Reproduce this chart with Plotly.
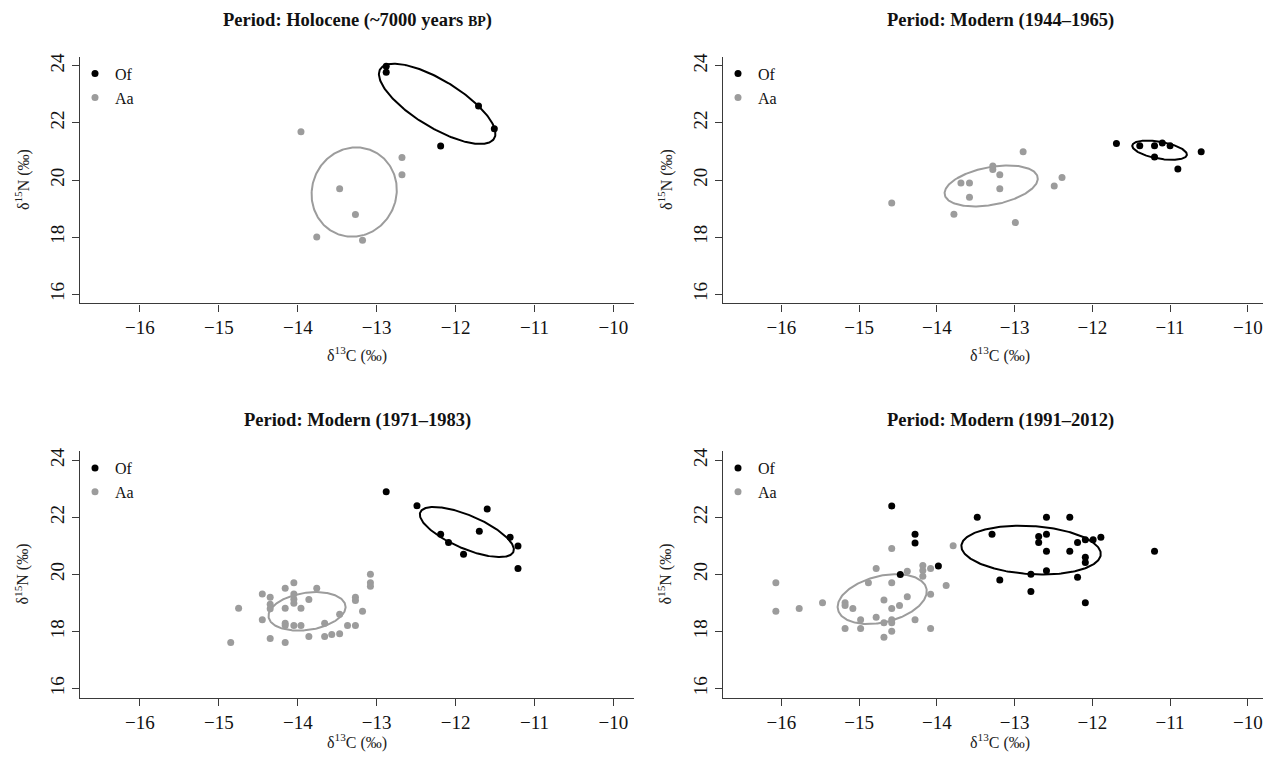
import numpy as np
import plotly.graph_objects as go

# ---------------- data ----------------
panel_titles = [
    "Period: Holocene (~7000 years <span style='font-size:14px'>BP</span>)",
    "Period: Modern (1944–1965)",
    "Period: Modern (1971–1983)",
    "Period: Modern (1991–2012)",
]

x_tick_vals = [-16, -15, -14, -13, -12, -11, -10]
x_tick_text = ["−16", "−15", "−14", "−13", "−12", "−11", "−10"]
y_tick_vals = [16, 18, 20, 22, 24]
y_tick_text = ["16", "18", "20", "22", "24"]

# Holocene
hol_of_x = [-12.88, -12.88, -11.71, -11.51, -12.19]
hol_of_y = [23.99, 23.78, 22.59, 21.80, 21.19]
hol_aa_x = [-13.96, -12.68, -12.68, -13.47, -13.27, -13.76, -13.18]
hol_aa_y = [21.69, 20.79, 20.19, 19.70, 18.79, 18.01, 17.89]

# Modern 1944-1965
m44_of_x = [-11.69, -11.39, -11.20, -11.10, -11.00, -11.20, -10.60, -10.90]
m44_of_y = [21.28, 21.20, 21.20, 21.30, 21.20, 20.81, 20.99, 20.39]
m44_aa_x = [-12.89, -13.28, -13.28, -13.19, -13.69, -13.58, -13.19, -13.58,
            -12.39, -12.49, -14.58, -13.78, -12.99]
m44_aa_y = [20.99, 20.49, 20.37, 20.19, 19.90, 19.90, 19.70, 19.40,
            20.09, 19.79, 19.20, 18.80, 18.51]

# Modern 1971-1983
m71_of_x = [-12.88, -12.49, -11.60, -12.19, -12.09, -11.70, -11.31, -11.21, -11.90, -11.21]
m71_of_y = [22.90, 22.41, 22.29, 21.41, 21.12, 21.51, 21.30, 21.00, 20.71, 20.21]
m71_aa_x = [-13.08, -13.08, -13.08, -14.05, -14.16, -13.76, -14.45, -14.35, -14.05,
            -14.05, -14.05, -14.35, -14.35, -13.86, -13.27, -13.27, -14.75, -14.16,
            -13.96, -13.18, -13.47, -14.45, -14.16, -14.16, -14.05, -13.96, -13.66,
            -13.37, -13.27, -14.35, -13.86, -13.66, -13.57, -13.47, -14.16, -14.85]
m71_aa_y = [20.01, 19.71, 19.59, 19.71, 19.52, 19.52, 19.32, 19.20, 19.32,
            19.13, 18.99, 18.96, 18.80, 19.12, 19.20, 19.09, 18.82, 18.82,
            18.82, 18.71, 18.61, 18.41, 18.29, 18.21, 18.21, 18.21, 18.29,
            18.21, 18.21, 17.76, 17.83, 17.83, 17.90, 17.92, 17.62, 17.62]

# Modern 1991-2012
m91_of_x = [-14.58, -14.28, -14.28, -13.98, -14.47,
            -13.48, -12.59, -12.29, -13.29, -12.69, -12.59, -12.69, -12.09, -11.99,
            -11.89, -12.19, -12.59, -12.29, -11.20, -12.09, -12.09, -12.59, -12.79,
            -13.19, -12.19, -12.79, -12.09]
m91_of_y = [22.40, 21.41, 21.10, 20.30, 20.00,
            22.00, 22.00, 22.00, 21.41, 21.33, 21.41, 21.12, 21.22, 21.22,
            21.30, 21.12, 20.81, 20.81, 20.81, 20.60, 20.42, 20.13, 20.01,
            19.81, 19.90, 19.40, 19.01]
m91_aa_x = [-14.58, -13.79, -14.78, -14.38, -14.18, -14.18, -14.18, -14.08, -13.88,
            -14.88, -14.58, -14.08, -14.38, -14.68, -15.18, -15.18, -14.48, -15.08,
            -14.58, -15.47, -15.77, -16.07, -16.07, -14.78, -14.98, -14.68, -14.58,
            -14.58, -14.28, -15.18, -14.98, -14.58, -14.68, -14.08]
m91_aa_y = [20.91, 21.01, 20.21, 20.11, 20.31, 20.14, 19.94, 20.21, 19.61,
            19.71, 19.71, 19.31, 19.22, 19.11, 19.01, 18.91, 18.91, 18.81,
            18.81, 19.01, 18.81, 19.71, 18.71, 18.50, 18.41, 18.31, 18.41,
            18.31, 18.41, 18.11, 18.11, 18.01, 17.80, 18.11]

panels = [
    (hol_of_x, hol_of_y, hol_aa_x, hol_aa_y),
    (m44_of_x, m44_of_y, m44_aa_x, m44_aa_y),
    (m71_of_x, m71_of_y, m71_aa_x, m71_aa_y),
    (m91_of_x, m91_of_y, m91_aa_x, m91_aa_y),
]

# ---------------- layout geometry ----------------
W, H = 1263, 757
OF_COL = "#000000"
AA_COL = "#9c9c9c"
AXIS_COL = "#3a3a3a"
FONT = "Liberation Serif, Times New Roman, serif"

# pixel boxes of plot areas: (left, right, top, bottom)
boxes = [(80, 634, 53, 301), (723, 1263, 53, 301),
         (80, 634, 449.5, 697.5), (723, 1263, 449.5, 697.5)]
x_ranges = [[-16.76, -9.74], [-16.75, -9.805], [-16.76, -9.74], [-16.75, -9.805]]
y_range = [15.68, 24.32]
title_y = [17, 17, 419, 419]
title_cx = [357, 1000, 357, 1000]
xtitle_y = [352, 352, 741, 741]


def px(x):
    return x / W


def py(y):
    return 1 - y / H


def sea_c(x, y, n=240):
    x = np.asarray(x, float)
    y = np.asarray(y, float)
    m = len(x)
    S = np.cov(x, y) * (m - 1) / (m - 2)
    vals, vecs = np.linalg.eigh(S)
    t = np.linspace(0, 2 * np.pi, n)
    circ = np.vstack([np.cos(t), np.sin(t)])
    pts = vecs @ (np.sqrt(vals)[:, None] * circ)
    return x.mean() + pts[0], y.mean() + pts[1]


fig = go.Figure()
annotations = []

for i, (ofx, ofy, aax, aay) in enumerate(panels):
    k = "" if i == 0 else str(i + 1)
    xa, ya = "x" + k, "y" + k
    leg = "legend" + k
    l, r, t, b = boxes[i]

    ex, ey = sea_c(aax, aay)
    fig.add_trace(go.Scatter(x=ex, y=ey, mode="lines", xaxis=xa, yaxis=ya,
                             line=dict(color=AA_COL, width=2), showlegend=False,
                             hoverinfo="skip"))
    ex, ey = sea_c(ofx, ofy)
    fig.add_trace(go.Scatter(x=ex, y=ey, mode="lines", xaxis=xa, yaxis=ya,
                             line=dict(color=OF_COL, width=2), showlegend=False,
                             hoverinfo="skip"))
    fig.add_trace(go.Scatter(x=aax, y=aay, mode="markers", xaxis=xa, yaxis=ya,
                             marker=dict(color=AA_COL, size=7), name="Aa",
                             legend=leg, legendrank=2))
    fig.add_trace(go.Scatter(x=ofx, y=ofy, mode="markers", xaxis=xa, yaxis=ya,
                             marker=dict(color=OF_COL, size=7), name="Of",
                             legend=leg, legendrank=1))

    axis_common = dict(showline=True, linecolor=AXIS_COL, linewidth=1.3,
                       ticks="outside", ticklen=7, tickcolor=AXIS_COL, tickwidth=1.3,
                       showgrid=False, zeroline=False, mirror=False, fixedrange=True,
                       tickfont=dict(family=FONT, size=19, color="#111"))
    fig.layout["xaxis" + k] = dict(axis_common, domain=[px(l), px(r)],
                                   range=x_ranges[i], anchor=ya,
                                   tickvals=x_tick_vals, ticktext=x_tick_text)
    fig.layout["yaxis" + k] = dict(axis_common, domain=[py(b), py(t)],
                                   range=y_range, anchor=xa, tickangle=-90,
                                   tickvals=y_tick_vals, ticktext=y_tick_text)

    fig.layout[leg] = dict(x=px(l - 5), y=py(t + 0), xanchor="left", yanchor="top",
                           bgcolor="rgba(0,0,0,0)", itemwidth=30,
                           font=dict(family=FONT, size=16, color="#111"),
                           traceorder="normal", tracegroupgap=0)

    annotations.append(dict(text="<b>" + panel_titles[i] + "</b>", xref="paper", yref="paper",
                            x=px(title_cx[i]), y=py(title_y[i]), xanchor="center",
                            yanchor="middle", showarrow=False,
                            font=dict(family=FONT, size=18.5, color="#111")))
    annotations.append(dict(text="δ<sup>13</sup>C (‰)", xref="paper", yref="paper",
                            x=px(title_cx[i]), y=py(xtitle_y[i]), xanchor="center",
                            yanchor="middle", showarrow=False,
                            font=dict(family=FONT, size=16, color="#222")))
    annotations.append(dict(text="δ<sup>15</sup>N (‰)", xref="paper", yref="paper",
                            x=px(l - 58), y=py((t + b) / 2), xanchor="center",
                            yanchor="middle", textangle=-90, showarrow=False,
                            font=dict(family=FONT, size=16, color="#222")))

fig.update_layout(width=W, height=H, margin=dict(l=0, r=0, t=0, b=0),
                  paper_bgcolor="white", plot_bgcolor="white",
                  annotations=annotations, hovermode=False)

fig.write_html("out.html")
